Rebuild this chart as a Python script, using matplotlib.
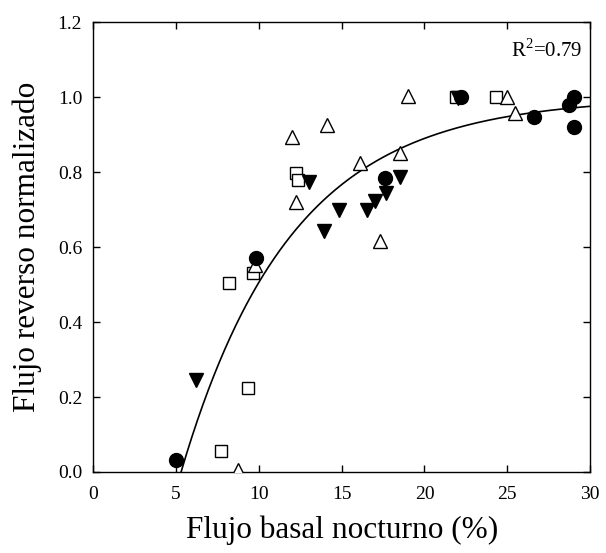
import numpy as np
import matplotlib
matplotlib.use("Agg")
import matplotlib.pyplot as plt

plt.rcParams['font.family'] = ['Liberation Serif', 'DejaVu Serif']
plt.rcParams['mathtext.fontset'] = 'custom'
plt.rcParams['mathtext.rm'] = 'Liberation Serif'

# Filled circles
circ_x = [5.02, 9.84, 17.6, 22.2, 26.6, 28.75, 29.05, 29.05]
circ_y = [0.032, 0.570, 0.783, 1.000, 0.948, 0.979, 0.999, 0.919]

# Open squares
sq_x = [7.73, 9.34, 8.19, 9.64, 12.25, 12.35, 21.9, 24.3]
sq_y = [0.057, 0.223, 0.505, 0.530, 0.797, 0.779, 1.000, 1.000]

# Filled down-triangles
tdn_x = [6.23, 13.05, 14.86, 13.96, 16.55, 17.0, 17.7, 18.5, 22.0]
tdn_y = [0.245, 0.774, 0.700, 0.643, 0.700, 0.723, 0.745, 0.788, 0.998]

# Open up-triangles
tup_x = [8.73, 9.74, 12.25, 11.98, 14.12, 16.1, 17.3, 18.5, 19.0, 25.0, 25.5]
tup_y = [0.005, 0.552, 0.721, 0.894, 0.925, 0.825, 0.617, 0.850, 1.003, 1.000, 0.958]

# Fitted exponential rise to maximum: y = a * (1 - exp(-b * (x - x0)))
fit_a, fit_b, fit_x0 = 1.0, 0.15, 5.3
r2_text = r'R$^2$=0.79'

x_ticks = [0, 5, 10, 15, 20, 25, 30]
y_ticks = [0.0, 0.2, 0.4, 0.6, 0.8, 1.0, 1.2]

fig = plt.figure(figsize=(6.06, 5.53), dpi=100)
ax = fig.add_axes([0.154, 0.1465, 0.8196, 0.8135])

xf = np.linspace(fit_x0, 30, 300)
yf = fit_a * (1 - np.exp(-fit_b * (xf - fit_x0)))
ax.plot(xf, yf, color='black', lw=1.2, zorder=2)

ax.plot(sq_x, sq_y, 's', ms=8, mfc='white', mec='black', mew=1.0, ls='none', zorder=3)
ax.plot(tup_x, tup_y, '^', ms=9.5, mfc='white', mec='black', mew=1.0, ls='none', zorder=3)
ax.plot(tdn_x, tdn_y, 'v', ms=9.5, mfc='black', mec='black', ls='none', zorder=4)
ax.plot(circ_x, circ_y, 'o', ms=10, mfc='black', mec='black', ls='none', zorder=4)

ax.set_xlim(0, 30)
ax.set_ylim(0, 1.2)
ax.set_xticks(x_ticks)
ax.set_yticks(y_ticks)
ax.set_xticklabels([str(v) for v in x_ticks])
ax.set_yticklabels([f"{v:.1f}" for v in y_ticks])
ax.tick_params(direction='in', length=5, width=1, top=True, right=True,
               labelsize=14)
ax.tick_params(axis='x', pad=10)
ax.tick_params(axis='y', pad=8)
for s in ax.spines.values():
    s.set_linewidth(1.0)

ax.set_xlabel('Flujo basal nocturno (%)', fontsize=22.5, labelpad=9)
ax.set_ylabel('Flujo reverso normalizado', fontsize=22.5, labelpad=11)

ax.text(0.984, 0.962, r2_text, transform=ax.transAxes, ha='right', va='top', fontsize=15)

fig.savefig('out.png', dpi=100)
